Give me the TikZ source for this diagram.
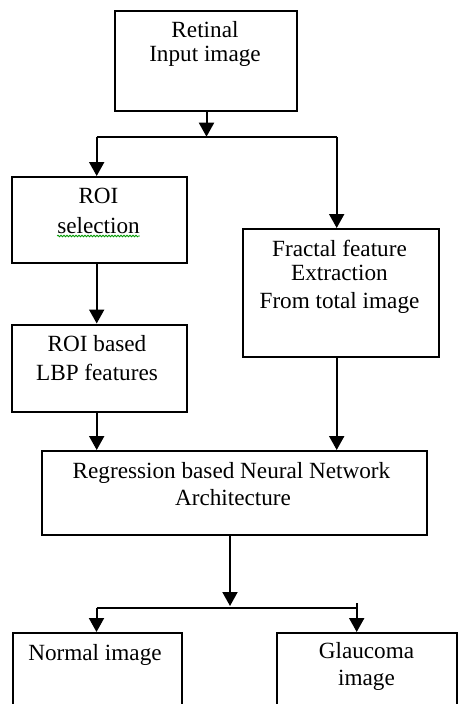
\documentclass[tikz,border=0pt]{standalone}
\usepackage{fontspec}
\setmainfont{Liberation Serif}
\usetikzlibrary{arrows.meta,decorations.pathmorphing,calc}
\begin{document}
\begin{tikzpicture}[x=1pt,y=-1pt,
  box/.style={draw,line width=2pt,rectangle,inner sep=0pt},
  lbl/.style={anchor=base,inner sep=0pt,font=\fontsize{23.2}{26}\selectfont},
  conn/.style={line width=2pt},
  arr/.style={line width=2pt,-{Triangle[length=14pt,width=15pt]}}]
\useasboundingbox (0,0) rectangle (458,704);
% boxes
\node[box,minimum width=182pt,minimum height=100pt] (ret) at (205.5,61) {};
\node[box,minimum width=175pt,minimum height=86pt] (roi) at (99,220) {};
\node[box,minimum width=175pt,minimum height=87pt] (lbp) at (99,368) {};
\node[box,minimum width=196pt,minimum height=128pt] (frac) at (340.5,293) {};
\node[box,minimum width=385pt,minimum height=84pt] (reg) at (234.5,493) {};
\node[box,minimum width=169pt,minimum height=100pt,anchor=north west] (norm) at (12,632) {};
\node[box,minimum width=180pt,minimum height=100pt,anchor=north west] (glau) at (276,632) {};
% texts
\node[lbl] (t1) at (205,37.3) {Retinal};
\node[lbl] (t2) at (205,61.7) {Input image};
\node[lbl] (t3) at (98.5,203) {ROI};
\node[lbl] (t4) at (98.5,233) {selection};
\node[lbl] (t5) at (97,351.7) {ROI based};
\node[lbl] (t6) at (97,380) {LBP features};
\node[lbl] (t7) at (339.5,256) {Fractal feature};
\node[lbl] (t8) at (339.5,280) {Extraction};
\node[lbl] (t9) at (339.5,308) {From total image};
\node[lbl] (t10) at (231.5,478) {Regression based Neural Network};
\node[lbl] (t11) at (233,505.7) {Architecture};
\node[lbl] (t12) at (95,660) {Normal image};
\node[lbl] (t13) at (366.5,658.3) {Glaucoma};
\node[lbl] (t14) at (366.5,685) {image};
% spell-check squiggle
\draw[green!60!black,line width=0.8pt,decorate,
      decoration={snake,amplitude=0.8pt,segment length=3pt}]
  ($(t4.base west)+(0,3)$) -- ($(t4.base east)+(0,3)$);
% connectors
\coordinate (s1) at (206.5,136.7);
\coordinate (s1l) at (96.7,136.7);
\coordinate (s1r) at (336.7,136.7);
\draw[arr] (ret.south -| s1) -- (s1);
\draw[conn] (s1l) -- (s1r);
\draw[arr] (s1l) -- (roi.north -| s1l);
\draw[arr] (s1r) -- (frac.north -| s1r);
\draw[arr] (roi.south -| s1l) -- (lbp.north -| s1l);
\draw[arr] (lbp.south -| s1l) -- (reg.north -| s1l);
\draw[arr] (frac.south -| s1r) -- (reg.north -| s1r);
\coordinate (s2) at (230,606);
\coordinate (s2l) at (96.5,608);
\coordinate (s2r) at (356.7,608);
\coordinate (s2rt) at (356.7,603);
\draw[arr] (reg.south -| s2) -- (s2);
\draw[conn] (s2l) -- (s2r);
\draw[arr] (s2l) -- (norm.north -| s2l);
\draw[arr] (s2rt) -- (glau.north -| s2rt);
\end{tikzpicture}
\end{document}
